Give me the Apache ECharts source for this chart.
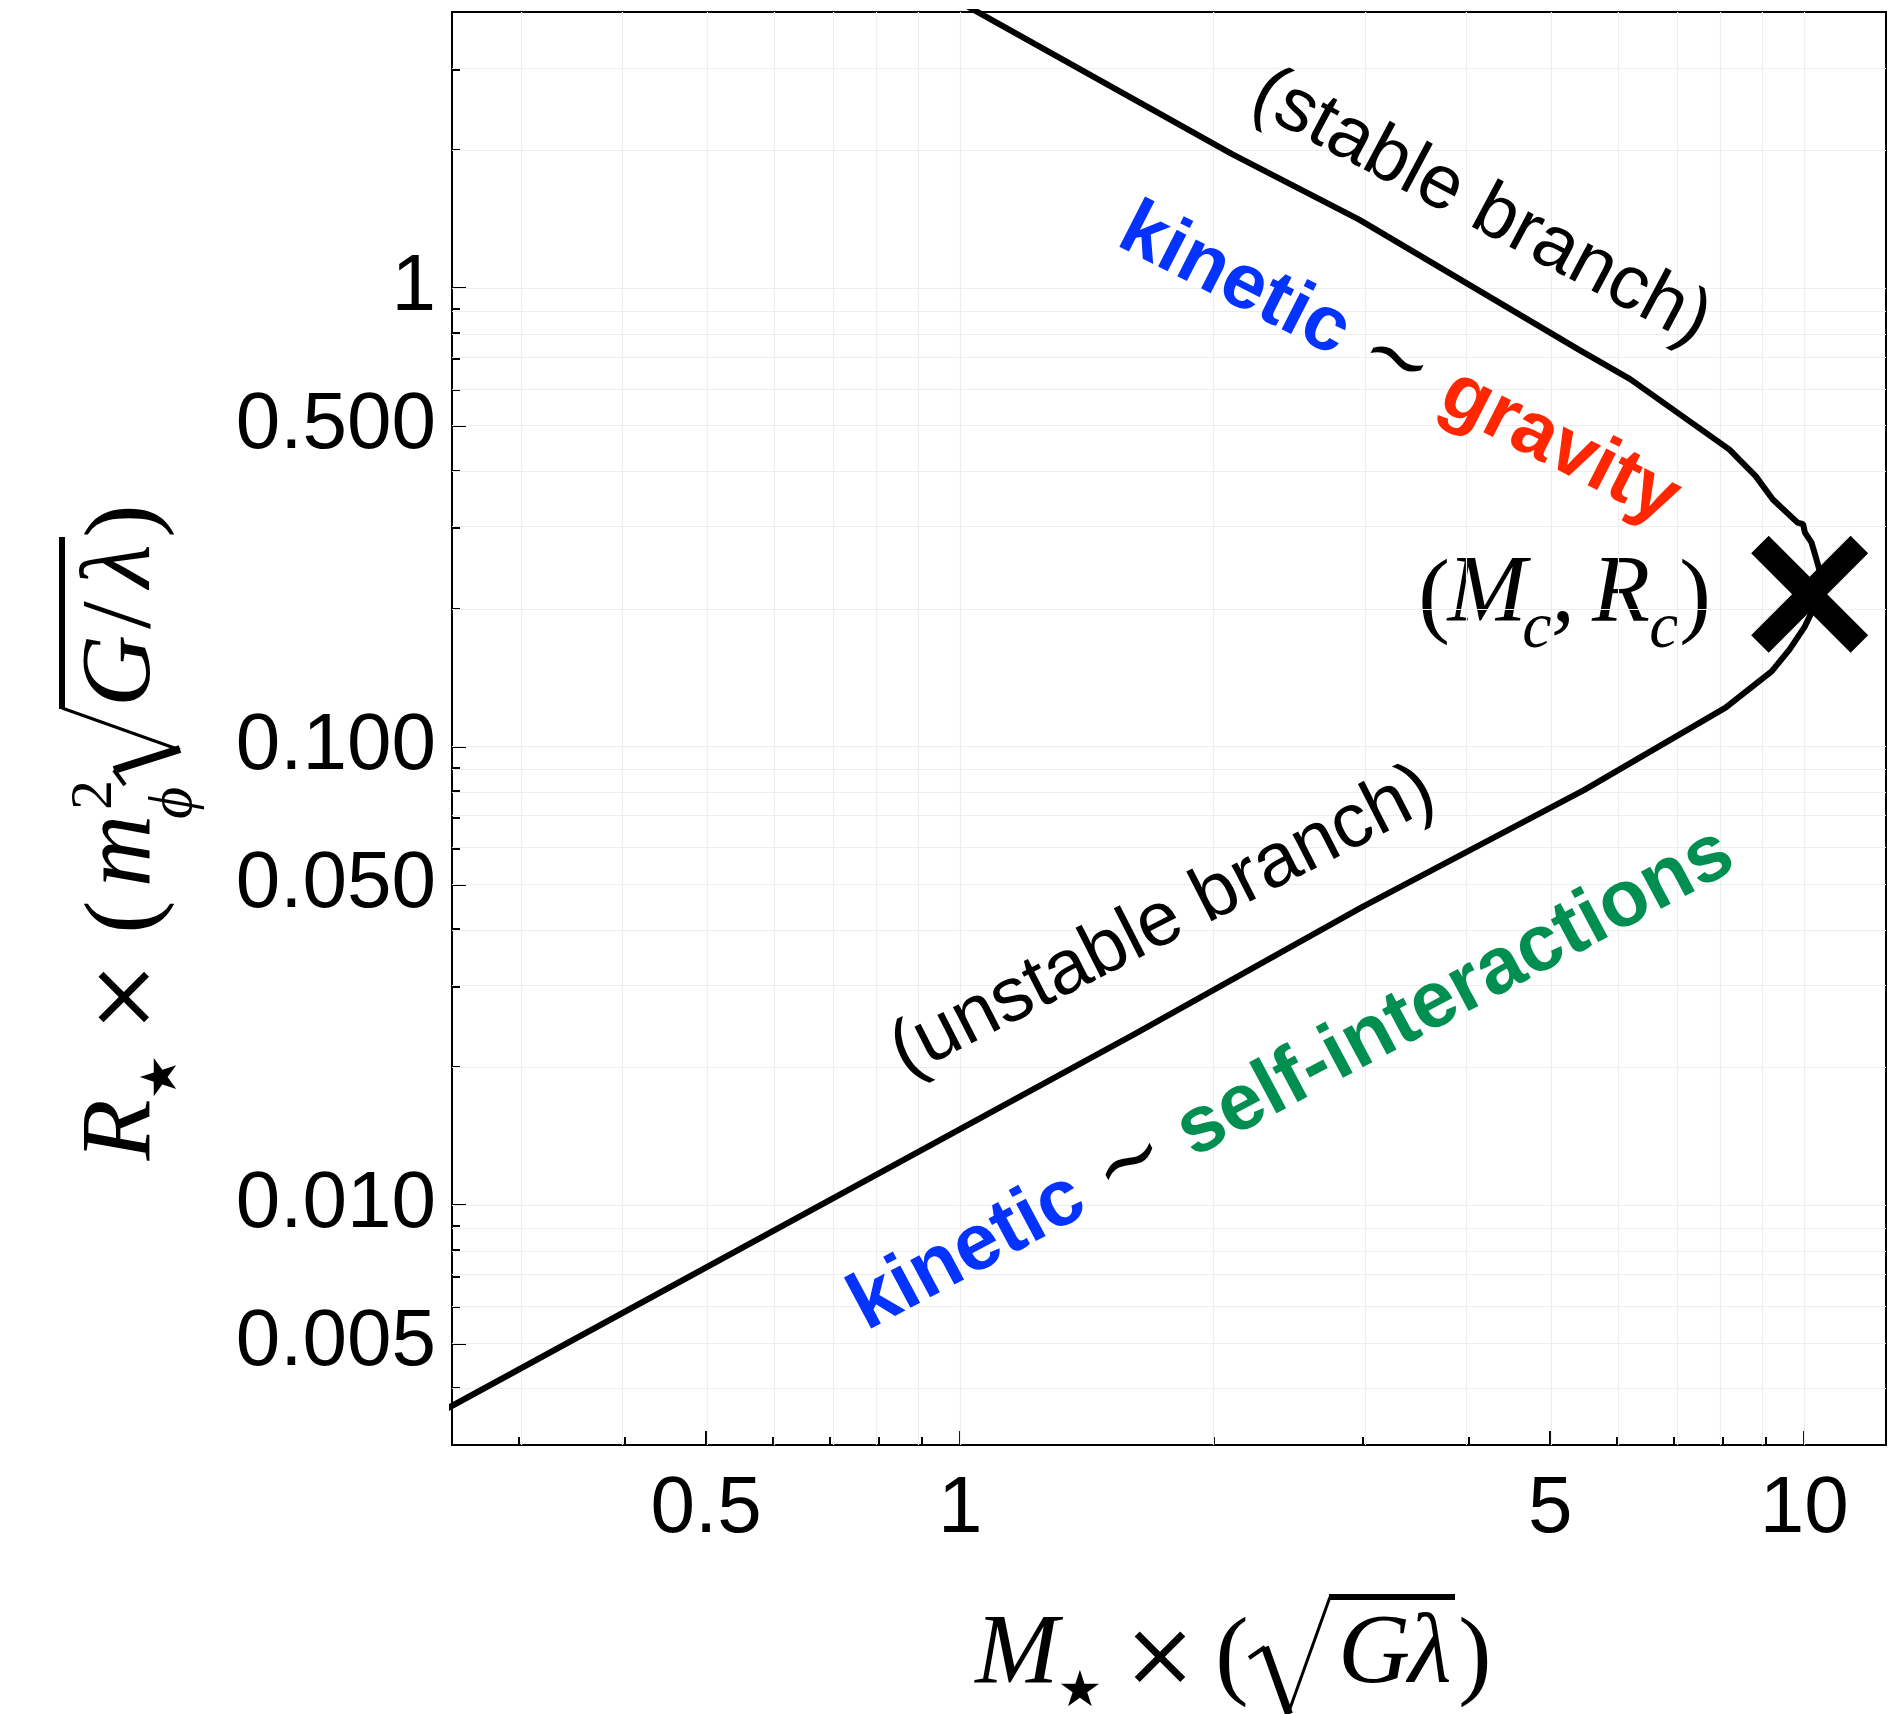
<!DOCTYPE html>
<html>
<head>
<meta charset="utf-8">
<script src="https://cdn.jsdelivr.net/npm/echarts@6.0.0/dist/echarts.min.js"></script>
<style>
  html, body { margin: 0; padding: 0; background: #ffffff; }
  #chart { width: 1896px; height: 1714px; }
</style>
</head>
<body>
<div id="chart"></div>
<script>
// Mass–radius curve of the self-interacting scalar star (dimensionless units).
// The stable branch runs in from the top, turns at the critical point and
// continues down as the unstable branch.
const massValues   = [1.0, 2.1, 2.97, 5.4, 6.22, 8.15, 8.76, 9.18, 9.82, 9.97, 10.02, 10.2, 10.34, 10.43, 10.45, 10.2, 10.02, 9.61, 9.15, 8.07, 5.49, 3.0, 1.615, 0.2];
const radiusValues = [4.2, 1.96, 1.41, 0.735, 0.633, 0.445, 0.389, 0.346, 0.308, 0.3055, 0.293, 0.279, 0.256, 0.242, 0.22, 0.196, 0.183, 0.163, 0.146, 0.1217, 0.0805, 0.0448, 0.0237, 0.00292];

// Critical point (M_c, R_c)
const criticalMass   = [10.15];
const criticalRadius = [0.215];

// Axis ranges and ticks
const massRange   = [0.25, 12.5];
const radiusRange = [0.003, 4];

const massMajorTicks  = [0.5, 1, 5, 10];
const massMajorLabels = ['0.5', '1', '5', '10'];
const massMinorTicks  = [0.3, 0.4, 0.6, 0.7, 0.8, 0.9, 2, 3, 4, 6, 7, 8, 9];

const radiusMajorTicks  = [0.005, 0.01, 0.05, 0.1, 0.5, 1];
const radiusMajorLabels = ['0.005', '0.010', '0.050', '0.100', '0.500', '1'];
const radiusMinorTicks  = [0.004, 0.006, 0.007, 0.008, 0.009, 0.02, 0.03, 0.04, 0.06, 0.07, 0.08, 0.09,
                           0.2, 0.3, 0.4, 0.6, 0.7, 0.8, 0.9, 2, 3];

const lg = Math.log10;

function labelFormatter(ticks, labels) {
  return function (v) {
    for (let i = 0; i < ticks.length; i++) {
      if (Math.abs(lg(ticks[i]) - v) < 1e-6) return labels[i];
    }
    return '';
  };
}

const SANS  = '"Liberation Sans", Arial, Helvetica, sans-serif';
const SERIF = '"Liberation Serif", "DejaVu Serif", "Times New Roman", serif';
const BLACK = '#000000';
const BLUE  = '#0433FF';
const RED   = '#FF2600';
const GREEN = '#008F51';

const gridLineData = []
  .concat(massMajorTicks.concat(massMinorTicks).map(v => ({ xAxis: lg(v) })))
  .concat(radiusMajorTicks.concat(radiusMinorTicks).map(v => ({ yAxis: lg(v) })));

function mainAxis(range, ticks, labels, margin) {
  return {
    type: 'value',
    min: lg(range[0]),
    max: lg(range[1]),
    axisLine: { show: true, onZero: false, lineStyle: { color: BLACK, width: 2 } },
    axisTick: { show: true, inside: true, length: 14, customValues: ticks.map(lg),
                lineStyle: { color: BLACK, width: 2 } },
    axisLabel: { show: true, customValues: ticks.map(lg), formatter: labelFormatter(ticks, labels),
                 fontSize: 80, fontFamily: SANS, color: BLACK, margin: margin },
    splitLine: { show: false }
  };
}

function minorAxis(range, ticks) {
  return {
    type: 'value',
    min: lg(range[0]),
    max: lg(range[1]),
    axisLine: { show: false, onZero: false },
    axisTick: { show: true, inside: true, length: 8, customValues: ticks.map(lg),
                lineStyle: { color: BLACK, width: 2 } },
    axisLabel: { show: false },
    splitLine: { show: false }
  };
}

// --- text helpers -------------------------------------------------------
function glyph(text, x, y, size, family, italic, extra) {
  const st = {
    text: text, fontSize: size, fontFamily: family,
    fontStyle: italic ? 'italic' : 'normal', fontWeight: 'normal',
    fill: BLACK, textFill: BLACK,
    align: 'center', textAlign: 'center',
    verticalAlign: 'middle', textVerticalAlign: 'middle'
  };
  return Object.assign({ type: 'text', x: x, y: y, style: st }, extra || {});
}

function stroke(points, width) {
  return { type: 'polyline', shape: { points: points },
           style: { stroke: BLACK, lineWidth: width, fill: null, lineJoin: 'miter', lineCap: 'butt' } };
}

function slanted(text, rich, x, y, angleDeg, size) {
  return {
    type: 'text', x: x, y: y, rotation: angleDeg * Math.PI / 180, z: 100,
    style: {
      text: text, fontSize: size, fontFamily: SANS, fill: BLACK, textFill: BLACK,
      align: 'center', textAlign: 'center',
      verticalAlign: 'middle', textVerticalAlign: 'middle',
      rich: rich
    }
  };
}

const boldToken = (c, size) => ({ fontSize: size, fontFamily: SANS, fontWeight: 'bold', fill: c, textFill: c });
const tildeToken = size => ({ fontSize: size, fontFamily: '"DejaVu Serif", serif', fill: BLACK, textFill: BLACK });

// horizontal axis title: M⋆ × (√(Gλ))
const xTitle = {
  type: 'group', z: 100,
  children: [
    glyph('M', 1017, 1656, 100, SERIF, true),
    glyph('★', 1080, 1693, 50, '"DejaVu Sans", sans-serif', false),
    glyph('×', 1160, 1662, 90, '"DejaVu Serif", serif', false),
    glyph('(', 1232, 1660, 100, SERIF, false),
    stroke([[1249, 1658], [1265, 1647]], 4),
    stroke([[1265, 1647], [1289, 1714]], 8),
    stroke([[1288, 1714], [1330, 1597]], 3),
    stroke([[1329, 1597], [1455, 1597]], 6),
    glyph('G', 1374, 1656, 100, SERIF, true),
    glyph('λ', 1430, 1656, 100, SERIF, true),
    glyph(')', 1475, 1660, 100, SERIF, false)
  ]
};

// vertical axis title: R⋆ × (m_ϕ² √(G/λ)), built along a local baseline and turned upright
const yTitle = {
  type: 'group', x: 157, y: 1163, rotation: Math.PI / 2, z: 100,
  children: [
    glyph('R', 33, -34, 100, SERIF, true),
    glyph('★', 86, 6, 50, '"DejaVu Sans", sans-serif', false),
    glyph('×', 166, -28, 90, '"DejaVu Serif", serif', false),
    glyph('(', 246, -30, 100, SERIF, false),
    glyph('m', 312, -34, 100, SERIF, true),
    glyph('2', 368, -62, 60, SERIF, false),
    glyph('ϕ', 360, 18, 62, SERIF, true),
    stroke([[378, -32], [393, -43]], 4),
    stroke([[393, -43], [414, 23]], 8),
    stroke([[413, 23], [455, -95]], 3),
    stroke([[454, -95], [626, -95]], 6),
    glyph('G', 492, -34, 100, SERIF, true),
    glyph('/', 548, -34, 100, SERIF, false),
    glyph('λ', 597, -34, 100, SERIF, true),
    glyph(')', 642, -30, 100, SERIF, false)
  ]
};

// (M_c, R_c) label beside the critical point
const criticalLabel = {
  type: 'group', z: 100,
  children: [
    glyph('(', 1434, 600, 95, SERIF, false),
    glyph('M', 1487, 596, 95, SERIF, true),
    glyph('c', 1537, 630, 66, SERIF, true),
    glyph(',', 1563, 596, 95, SERIF, true),
    glyph('R', 1621, 596, 95, SERIF, true),
    glyph('c', 1664, 630, 66, SERIF, true),
    glyph(')', 1695, 600, 95, SERIF, false)
  ]
};

const annotations = [
  slanted('(stable branch)', {}, 1481, 208, -28, 76),
  slanted('{k|kinetic} {t|∼} {g|gravity}',
          { k: boldToken(BLUE, 78), t: tildeToken(84), g: boldToken(RED, 78) }, 1399, 365, -27, 78),
  slanted('(unstable branch)', {}, 1163, 922, 27, 77),
  slanted('{k|kinetic} {t|∼} {s|self-interactions}',
          { k: boldToken(BLUE, 80), t: tildeToken(86), s: boldToken(GREEN, 80) }, 1292, 1080, 28, 80)
];

const chart = echarts.init(document.getElementById('chart'), null, { renderer: 'canvas' });

chart.setOption({
  animation: false,
  backgroundColor: '#ffffff',
  grid: {
    left: 452, right: 10, top: 12, bottom: 269,
    show: true, borderColor: BLACK, borderWidth: 2, backgroundColor: 'transparent',
    containLabel: false
  },
  xAxis: [
    Object.assign(mainAxis(massRange, massMajorTicks, massMajorLabels, 25), { position: 'bottom' }),
    Object.assign(minorAxis(massRange, massMinorTicks), { position: 'bottom' })
  ],
  yAxis: [
    Object.assign(mainAxis(radiusRange, radiusMajorTicks, radiusMajorLabels, 16), { position: 'left' }),
    Object.assign(minorAxis(radiusRange, radiusMinorTicks), { position: 'left' })
  ],
  series: [
    {
      // light reference grid at every tick value
      type: 'line', data: [], z: 1, silent: true,
      markLine: {
        silent: true, animation: false,
        symbol: ['none', 'none'],
        label: { show: false },
        emphasis: { disabled: true },
        lineStyle: { color: '#ededed', width: 1.2, type: 'solid' },
        data: gridLineData
      }
    },
    {
      type: 'line', z: 10, clip: true,
      data: massValues.map((m, i) => [lg(m), lg(radiusValues[i])]),
      showSymbol: false, symbol: 'none',
      lineStyle: { color: BLACK, width: 6 }
    },
    {
      type: 'scatter', z: 11,
      data: criticalMass.map((m, i) => [lg(m), lg(criticalRadius[i])]),
      symbol: 'path://M0,15 L15,0 L50,35 L85,0 L100,15 L65,50 L100,85 L85,100 L50,65 L15,100 L0,85 L35,50 Z',
      symbolSize: 117,
      itemStyle: { color: BLACK, opacity: 1 }
    }
  ],
  graphic: [xTitle, yTitle, criticalLabel].concat(annotations)
});
</script>
</body>
</html>
